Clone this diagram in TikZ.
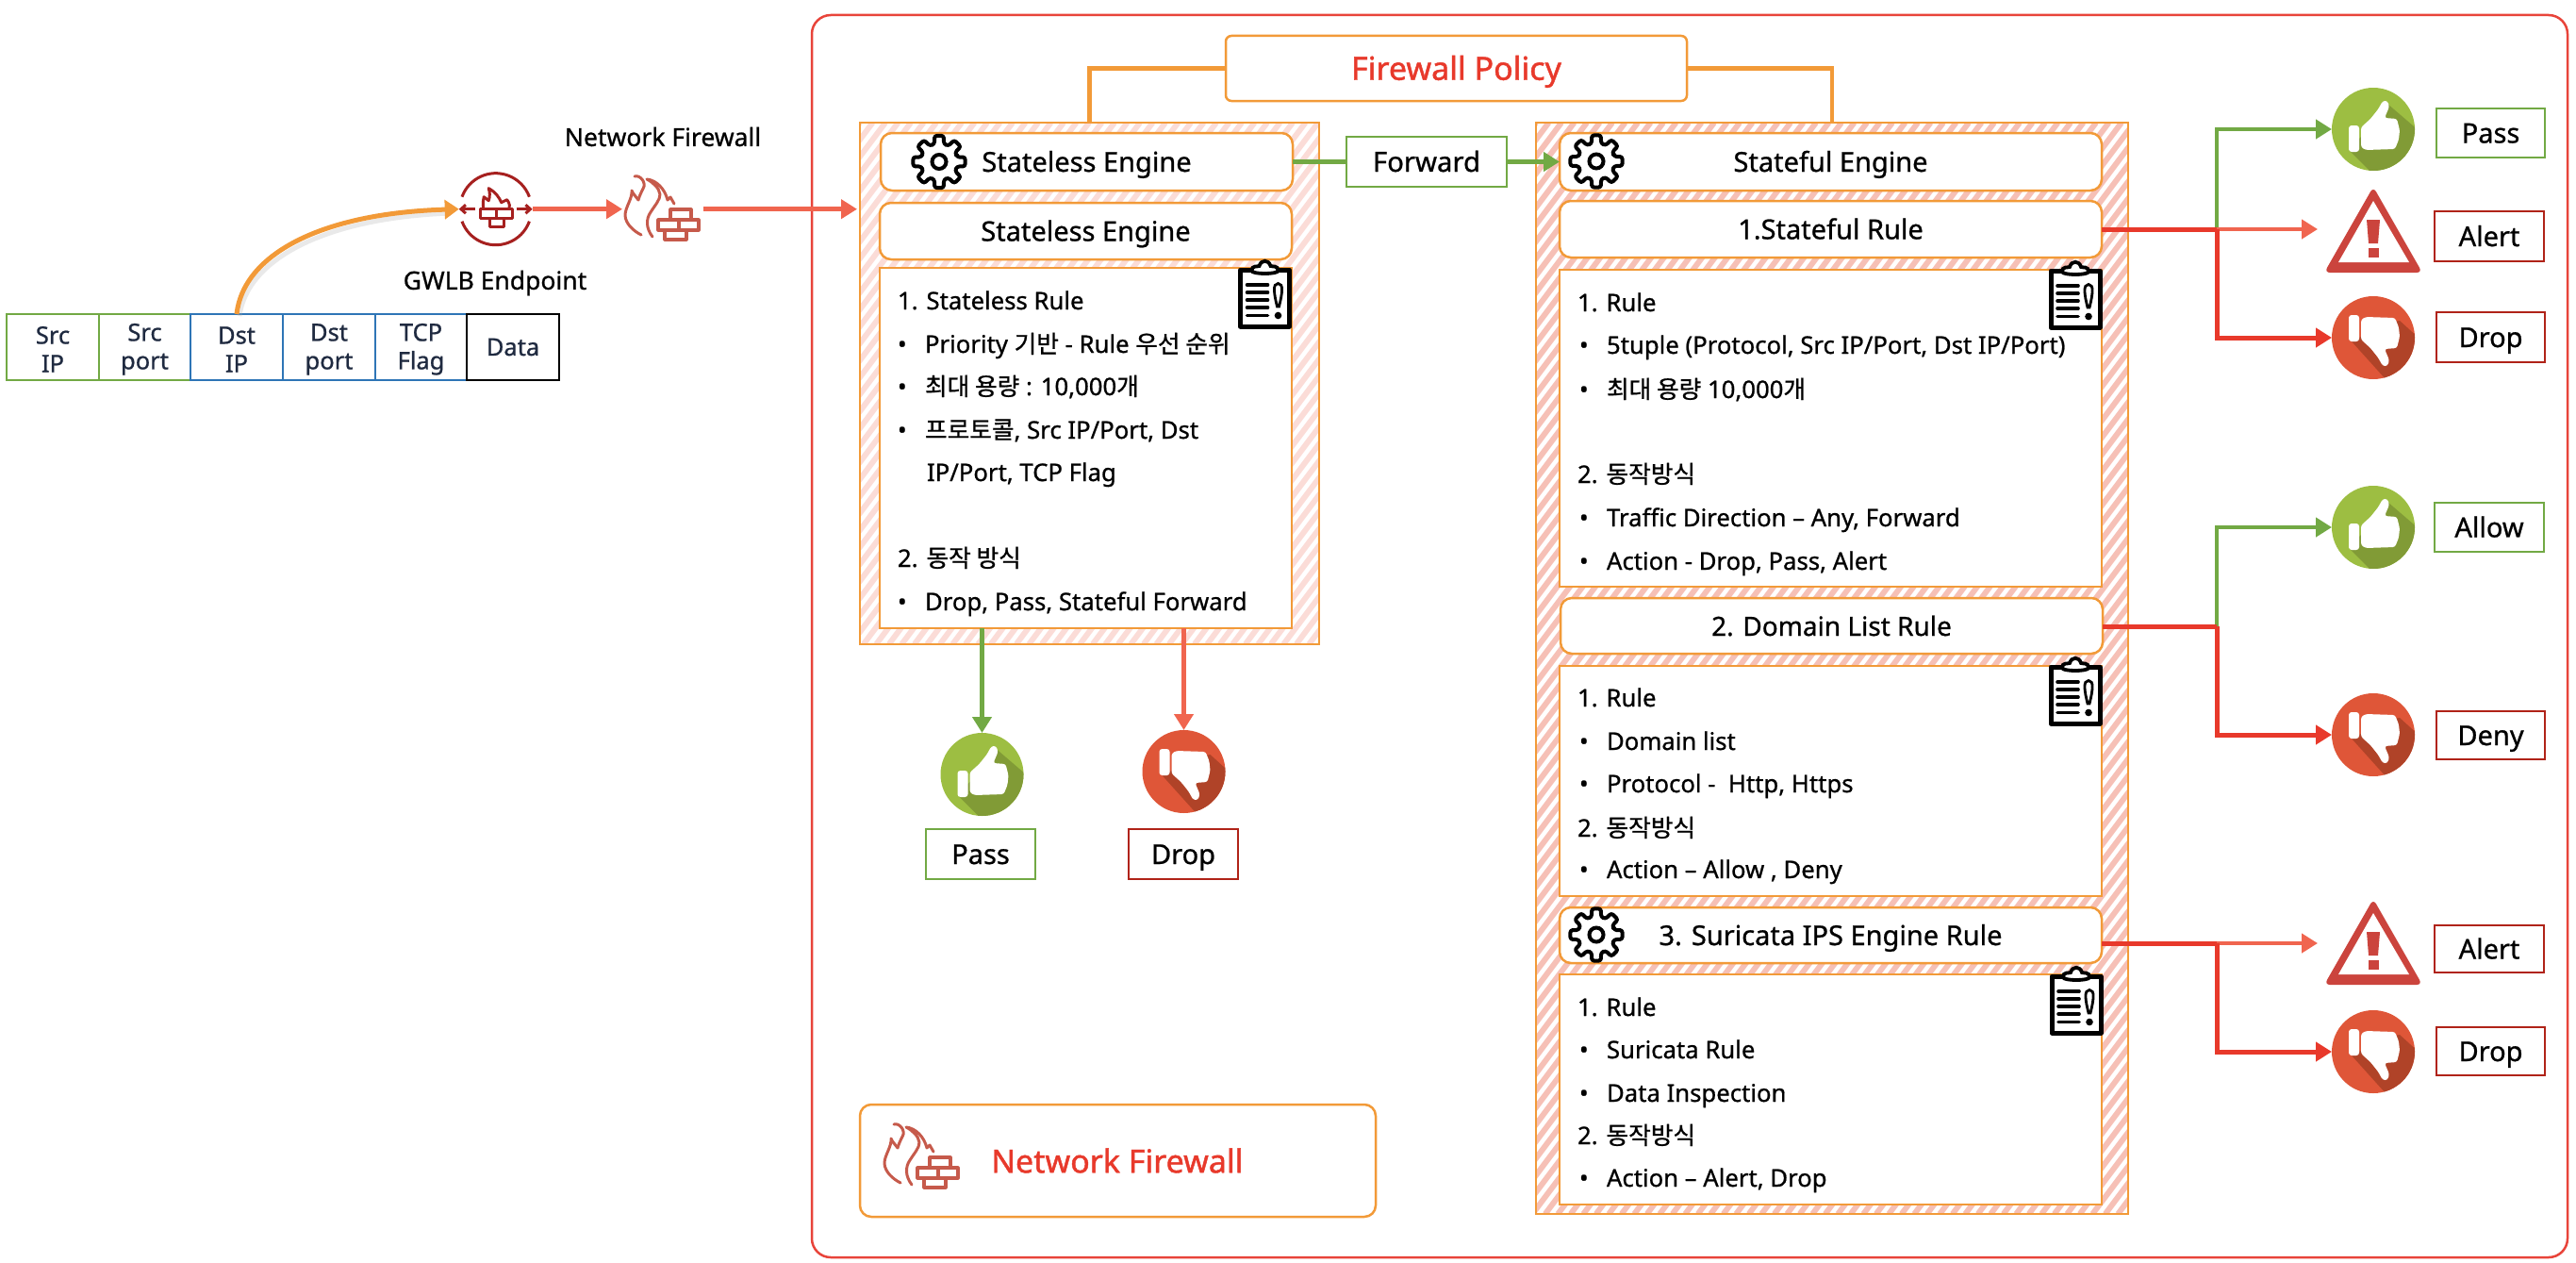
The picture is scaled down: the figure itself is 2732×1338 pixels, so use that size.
\documentclass[tikz,border=0pt]{standalone}
\usepackage{fontspec}
\setmainfont[FakeBold=0.8]{Noto Sans}
\newfontfamily\kr[FakeBold=0.8]{Noto Sans CJK KR}
\newfontfamily\heavy[FakeBold=1.3]{Noto Sans}
\usetikzlibrary{arrows.meta}
\definecolor{orangeC}{HTML}{F29A38}
\definecolor{redC}{HTML}{E8392B}
\definecolor{frameC}{HTML}{E8443A}
\definecolor{salmonC}{HTML}{F0654F}
\definecolor{greenC}{HTML}{72A944}
\definecolor{blueC}{HTML}{2E75B6}
\definecolor{dredC}{HTML}{B02318}
\definecolor{inkC}{HTML}{1F2A40}
\definecolor{hatchA}{HTML}{FBDCD7}
\definecolor{hatchB}{HTML}{F6C0B6}
\definecolor{upA}{HTML}{9DBE42}
\definecolor{upB}{HTML}{819B36}
\definecolor{downA}{HTML}{DF5638}
\definecolor{downB}{HTML}{B04328}
\definecolor{warnC}{HTML}{CB443D}
\definecolor{gwC}{HTML}{A6201F}
\definecolor{fwC}{HTML}{C65A4B}
\newcommand\Kr[1]{{\kr #1}}
\newcommand\cst{\rule{0pt}{23pt}}
\newcommand\mybox[7]{\node[#2, minimum width={(#5-#3)*1pt}, minimum height={(#6-#4)*1pt}, inner sep=0pt, outer sep=0pt] (#1) at ({(#3+#5)/2},{(#4+#6)/2}) {#7};}
\newcommand\rtext[4]{\node[ruletext] (#1) at (#2,#3+9) {#4};}
\newcommand\rbul[4]{\node[ruletext] (#1) at (#2,#3+9) {\makebox[29pt][l]{•}#4};}
\newcommand\hatchp[6]{\begin{scope}\clip (#1,#2) rectangle (#3,#4);
\foreach \i in {0,...,#6} \draw[#5, line width=6pt] ({#1-(#4-#2)*0.75+\i*13.5},#4) -- ++({(#4-#2)*0.75},{-(#4-#2)});
\end{scope}}
\tikzset{
 ruletext/.style={anchor=base west, inner sep=0pt, outer sep=0pt, font=\fontsize{25.7}{30}\selectfont},
 roundb/.style={draw=orangeC, line width=2.5pt, fill=white, rounded corners=12pt, text height=21pt, text depth=0pt, font=\fontsize{29}{34}\selectfont},
 ruleb/.style={draw=orangeC, line width=2.5pt, fill=white},
 panelb/.style={draw=orangeC, line width=2.5pt},
 labG/.style={draw=greenC, line width=2.5pt, fill=white, text height=21pt, text depth=0pt, font=\fontsize{29}{34}\selectfont},
 labR/.style={draw=dredC, line width=2.5pt, fill=white, text height=21pt, text depth=0pt, font=\fontsize{29}{34}\selectfont},
 cellb/.style={line width=2.5pt, fill=white, align=center, text=inkC, font=\fontsize{25.5}{30}\selectfont},
 ghost/.style={inner sep=0pt, outer sep=0pt, minimum size=88pt, circle},
 conG/.style={draw=greenC, line width=4.5pt, -{Triangle[length=17pt,width=20pt]}},
 conS/.style={draw=salmonC, line width=4.5pt, -{Triangle[length=17pt,width=20pt]}},
 conR/.style={draw=redC, line width=5pt, -{Triangle[length=17pt,width=20pt]}},
 conRp/.style={draw=redC, line width=5pt},
 gearicon/.pic={
  \draw[black, line width=4pt, fill=white, rounded corners=2.5pt, line join=round] (-15:19.5)
   \foreach \a in {0,45,...,315} { -- (\a-15:19.5) -- (\a-10:28) -- (\a+10:28) -- (\a+15:19.5) } -- cycle;
  \draw[black, line width=4pt] (0,0) circle[radius=7.5];
 },
 clipicon/.pic={
  \draw[black, line width=5pt, fill=white, line join=round] (-26,-30) rectangle (26,30);
  \draw[black, line width=3.8pt, fill=white] (-14,-29) .. controls (-14,-35) and (-8,-33) .. (-6,-34) .. controls (-4,-41) and (4,-41) .. (6,-34) .. controls (8,-33) and (14,-35) .. (14,-29) .. controls (14,-25) and (-14,-25) .. (-14,-29) -- cycle;
  \foreach \yy in {-14,-6,2,10,18.5} \draw[black, line width=3.6pt, line cap=round] (-19,\yy) -- (3,\yy);
  \draw[black, line width=2.8pt, fill=white] (14,-15.5) .. controls (20,-15.5) and (18.5,-5) .. (15,9) -- (13,9) .. controls (9.5,-5) and (8,-15.5) .. (14,-15.5) -- cycle;
  \fill[black] (14,18.5) circle[radius=3.8];
 },
 thumbup/.pic={
  \fill[upA] (0,0) circle[radius=44];
  \begin{scope}\clip (0,0) circle[radius=44];
   \fill[upB] (15,-27) -- (50,3) -- (50,50) -- (0,48) -- (-25,23) -- (-15,10) -- (5,-10) -- cycle;
  \end{scope}
  \fill[white, rounded corners=3pt] (-26,-4) rectangle (-15,24);
  \fill[white, rounded corners=2.5pt] (-13,-2) -- (-3,-11) -- (5,-21) -- (10,-30) -- (15,-30) -- (17,-24) -- (12,-12) -- (25,-11) -- (28,1) -- (27,11) -- (23,21) -- (-8,22) -- (-13,19) -- cycle;
 },
 thumbdown/.pic={
  \fill[downA] (0,0) circle[radius=44];
  \begin{scope}\clip (0,0) circle[radius=44];
   \fill[downB] (28,-18) -- (50,2) -- (50,50) -- (13,44) -- (-23,4) -- (-15,0) -- (10,-15) -- cycle;
  \end{scope}
  \fill[white, rounded corners=3pt] (-26,-24) rectangle (-15,4);
  \fill[white, rounded corners=2.5pt] (-13,2) -- (-3,11) -- (5,21) -- (10,30) -- (15,30) -- (17,24) -- (12,12) -- (25,11) -- (28,-1) -- (27,-11) -- (23,-21) -- (-8,-22) -- (-13,-19) -- cycle;
 },
 warnicon/.pic={
  \fill[warnC, rounded corners=6pt] (0,-52) -- (52,39) -- (-52,39) -- cycle;
  \fill[white] (0,-37) -- (38,28) -- (-37,28) -- cycle;
  \fill[warnC] (-7,-17) -- (7,-17) -- (5,8) -- (-5,8) -- cycle;
  \fill[warnC] (-5.5,13) rectangle (6,23);
 },
 gwicon/.pic={
  \draw[gwC, line width=3pt] (-35.7,-13) arc[start angle=200,end angle=340,radius=38];
  \draw[gwC, line width=3pt] (-35.7,13) arc[start angle=160,end angle=20,radius=38];
  \draw[gwC, line width=3pt, -{Straight Barb[length=5pt,width=9pt]}] (-22,0) -- (-39,0);
  \draw[gwC, line width=3pt, -{Straight Barb[length=5pt,width=9pt]}] (22,0) -- (39,0);
  \draw[gwC, line width=3pt, line join=round] (-16.5,0) rectangle (18,9.5) (1,0) -- (1,9.5) (-6.5,9.5) rectangle (8.5,19);
  \draw[gwC, line width=3pt, line join=round] (-13,0) .. controls (-14,-6) and (-13,-10) .. (-12.5,-13) -- (-7.5,-9) .. controls (-6,-13) and (-6,-18) .. (-7.5,-22) .. controls (0,-18) and (4,-12) .. (6,-7) -- (12,-10) .. controls (15,-6) and (15,-3) .. (14.5,0);
 },
 fwicon/.pic={
  \draw[fwC, line width=3pt, line cap=round, line join=round] (-30,-33) .. controls (-24,-35) and (-17,-26) .. (-21,-20) .. controls (-23,-16) and (-25,-12) .. (-26,-8) .. controls (-29,-12) and (-32,-15) .. (-33,-18) .. controls (-32,-10) and (-40,0) .. (-40,8) .. controls (-40,17) and (-31,25) .. (-23,29);
  \draw[fwC, line width=3pt, line cap=round, line join=round] (-11,31) .. controls (-18,22) and (-18,12) .. (-13,5) .. controls (-8,-3) and (-3,-8) .. (-3,-14) .. controls (-4,-21) and (-11,-27) .. (-17,-30) .. controls (-7,-29) and (2,-20) .. (5,-8) -- (8,-11) -- (12,-4);
  \draw[fwC, line width=3.2pt, line join=round] (8,2) rectangle (30,13) (-5,13) rectangle (38,24) (17,13) -- (17,24) (2,24) rectangle (25,34);
 }
}
\begin{document}
\begin{tikzpicture}[x=1pt,y=-1pt]
\useasboundingbox (0,0) rectangle (2732,1338);
% outer frame
\mybox{frame}{draw=frameC, line width=2.5pt, rounded corners=20pt}{861}{16}{2723}{1333}{}
% panels
\hatchp{912}{130}{1399}{683}{hatchA}{67}
\hatchp{1629}{130}{2257}{1287}{hatchB}{111}
\mybox{panelL}{panelb}{912}{130}{1399}{683}{}
\mybox{panelR}{panelb}{1629}{130}{2257}{1287}{}
% policy
\mybox{policy}{draw=orangeC, line width=2.5pt, fill=white, rounded corners=6pt, text=redC, text height=24.5pt, text depth=0pt, font=\fontsize{34}{40}\heavy}{1300}{38}{1789}{107}{Firewall Policy}
\draw[orangeC, line width=4.5pt] (policy.west) -| (panelL.north);
\draw[orangeC, line width=4.5pt] (policy.east) -| (panelR.north);
% stateless
\mybox{slA}{roundb}{934}{141}{1371}{202}{Stateless Engine}
\mybox{slB}{roundb}{933}{215}{1370}{275}{Stateless Engine}
\mybox{slRule}{ruleb}{933}{284}{1370}{666}{}
\pic at (996,171.5) {gearicon};
\pic at (1341.5,316) {clipicon};
\rtext{a1}{952}{319}{1. Stateless Rule}
\rbul{a2}{952}{365}{Priority \Kr{기반} - Rule \Kr{우선 순위}}
\rbul{a3}{952}{410}{\Kr{최대 용량} : 10,000\Kr{개}}
\rbul{a4}{952}{456}{\Kr{프로토콜}, Src IP/Port, Dst}
\rtext{a5}{983}{501}{IP/Port, TCP Flag}
\rtext{a6}{952}{592}{2. \Kr{동작 방식}}
\rbul{a7}{952}{638}{Drop, Pass, Stateful Forward}
% forward
\mybox{fwd}{draw=greenC, line width=2.5pt, fill=white, text height=21pt, text depth=0pt, font=\fontsize{29.3}{34}\selectfont}{1428}{145}{1598}{198}{Forward}
% stateful
\mybox{sfE}{roundb}{1654}{141}{2229}{202}{Stateful Engine}
\mybox{sfR1}{roundb}{1654}{213}{2229}{273}{1.Stateful Rule}
\mybox{box1}{ruleb}{1654}{286}{2229}{622}{}
\mybox{sfR2}{roundb, font=\fontsize{28}{33}\selectfont}{1655}{634}{2230}{693}{2. Domain List Rule}
\mybox{box2}{ruleb}{1654}{706}{2229}{950}{}
\mybox{sfR3}{roundb}{1654}{962}{2229}{1021}{3. Suricata IPS Engine Rule}
\mybox{box3}{ruleb}{1654}{1033}{2229}{1277}{}
\pic at (1693,171) {gearicon};
\pic at (1693,991) {gearicon};
\pic at (2201,317) {clipicon};
\pic at (2201,737) {clipicon};
\pic at (2202,1065) {clipicon};
\rtext{b1}{1673}{321}{1. Rule}
\rbul{b2}{1675}{366}{5tuple (Protocol, Src IP/Port, Dst IP/Port)}
\rbul{b3}{1675}{413}{\Kr{최대 용량} 10,000\Kr{개}}
\rtext{b4}{1673}{503}{2. \Kr{동작방식}}
\rbul{b5}{1675}{549}{Traffic Direction – Any, Forward}
\rbul{b6}{1675}{595}{Action - Drop, Pass, Alert}
\rtext{c1}{1673}{740}{1. Rule}
\rbul{c2}{1675}{786}{Domain list}
\rbul{c3}{1675}{831}{Protocol -\ \ Http, Https}
\rtext{c4}{1673}{878}{2. \Kr{동작방식}}
\rbul{c5}{1675}{922}{Action – Allow , Deny}
\rtext{d1}{1673}{1068}{1. Rule}
\rbul{d2}{1675}{1113}{Suricata Rule}
\rbul{d3}{1675}{1159}{Data Inspection}
\rtext{d4}{1673}{1204}{2. \Kr{동작방식}}
\rbul{d5}{1675}{1249}{Action – Alert, Drop}
% Network firewall legend
\mybox{legend}{draw=orangeC, line width=2.5pt, fill=white, rounded corners=12pt}{912}{1171}{1459}{1290}{}
\pic at (978,1225) {fwicon};
\node[anchor=west, inner sep=0pt, text=redC, font=\fontsize{34}{40}\heavy] (legendT) at (1051,1230.5) {Network Firewall};
% packet
\mybox{c1p}{cellb, draw=greenC}{7}{333}{105}{403}{\cst Src\\IP}
\mybox{c2p}{cellb, draw=greenC}{105}{333}{202}{403}{\cst Src\\port}
\mybox{c3p}{cellb, draw=blueC}{202}{333}{300}{403}{\cst Dst\\IP}
\mybox{c4p}{cellb, draw=blueC}{300}{333}{398}{403}{\cst Dst\\port}
\mybox{c5p}{cellb, draw=blueC}{398}{333}{495}{403}{\cst TCP\\Flag}
\mybox{c6p}{cellb, draw=black}{495}{333}{593}{403}{Data}
% left icons
\node[circle, inner sep=0pt, outer sep=0pt, minimum size=78pt] (gw) at (525.7,221.7) {};
\pic at (525.7,221.7) {gwicon};
\node[inner sep=0pt, outer sep=0pt, minimum width=86pt, minimum height=70pt] (fw) at (703,220) {};
\pic at (703,220) {fwicon};
\node[inner sep=0pt, font=\fontsize{26.5}{31}\selectfont] (lblFw) at (703,145) {Network Firewall};
\node[inner sep=0pt, font=\fontsize{26.5}{31}\selectfont] (lblGw) at (525,300) {GWLB Endpoint};
\draw[black!35, opacity=.25, line width=5pt] ([xshift=3pt,yshift=-2pt]c3p.north) .. controls (262,275) and (344,231) .. (478,226);
\draw[orangeC, line width=5pt, -{Triangle[length=15pt,width=20pt]}] (c3p.north) .. controls (258,270) and (340,226) .. (gw.west);
\draw[conS] (gw.east) -- (fw.west |- gw.east);
\draw[conS, shorten >=3pt] (fw.east |- gw.east) -- (panelL.west |- gw.east);
% right icons
\node[ghost] (up1) at (2517,137) {}; \pic at (2517,137) {thumbup};
\node[ghost, minimum size=100pt, rectangle, minimum height=88pt] (wa1) at (2517,250) {}; \pic at (2517,250) {warnicon};
\node[ghost] (dn1) at (2517,358) {}; \pic at (2517,358) {thumbdown};
\node[ghost] (up2) at (2517,559) {}; \pic at (2517,559) {thumbup};
\node[ghost] (dn2) at (2517,779) {}; \pic at (2517,779) {thumbdown};
\node[ghost, minimum size=100pt, rectangle, minimum height=88pt] (wa2) at (2517,1005) {}; \pic at (2517,1005) {warnicon};
\node[ghost] (dn3) at (2517,1115) {}; \pic at (2517,1115) {thumbdown};
\node[ghost] (upL) at (1041.5,821) {}; \pic at (1041.5,821) {thumbup};
\node[ghost] (dnL) at (1255.5,818) {}; \pic at (1255.5,818) {thumbdown};
% labels
\mybox{lp1}{labG}{2584}{115}{2699}{167}{Pass}
\mybox{la1}{labR}{2582}{224}{2698}{277}{Alert}
\mybox{ld1}{labR}{2584}{331}{2699}{384}{Drop}
\mybox{la2}{labG}{2582}{533}{2698}{585}{Allow}
\mybox{ld2}{labR}{2584}{754}{2699}{805}{Deny}
\mybox{la3}{labR}{2582}{981}{2698}{1031}{Alert}
\mybox{ld3}{labR}{2584}{1089}{2699}{1140}{Drop}
\mybox{lpL}{labG}{982}{879}{1098}{932}{Pass}
\mybox{ldL}{labR}{1197}{879}{1313}{932}{Drop}
% connectors
\draw[greenC, line width=4.5pt] (slA.east) -- (fwd.west);
\draw[conG] (fwd.east) -- (sfE.west);
\draw[conG] (upL.north |- slRule.south) -- (upL.north);
\draw[conS] (dnL.north |- slRule.south) -- (dnL.north);
\coordinate (j1) at (2351,243);
\coordinate (j2) at (2351,664);
\coordinate (j3) at (2351,1000);
\draw[conG] (j1) |- (up1.west);
\draw[conS, shorten >=9pt] (j1) -- (wa1.west |- j1);
\draw[conR] (j1) |- (dn1.west);
\draw[conRp] (sfR1.east |- j1) -- (j1);
\draw[conG] (j2) |- (up2.west);
\draw[conR] (j2) |- (dn2.west);
\draw[conRp] (sfR2.east |- j2) -- (j2);
\draw[conS, shorten >=9pt] (j3) -- (wa2.west |- j3);
\draw[conR] (j3) |- (dn3.west);
\draw[conRp] (sfR3.east |- j3) -- (j3);
\end{tikzpicture}
\end{document}
